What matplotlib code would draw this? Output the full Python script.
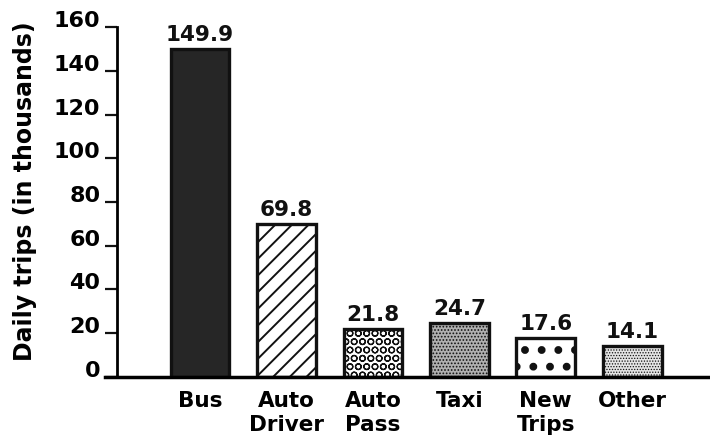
import matplotlib
matplotlib.use("Agg")
import matplotlib.pyplot as plt
import numpy as np

# daily trips by mode, in thousands
modes = ["Bus", "Auto\nDriver", "Auto\nPass", "Taxi", "New\nTrips", "Other"]
trips = [149.9, 69.8, 21.8, 24.7, 17.6, 14.1]
y_ticks = [0, 20, 40, 60, 80, 100, 120, 140, 160]

fills = ["#262626", "white", "white", "#b0b0b0", "white", "#e4e4e4"]
hatches = [None, "//", "OO", ".....", ".", "......"]
hatch_widths = [1.0, 1.4, 0.9, 0.8, 3.2, 0.6]

plt.rcParams["font.family"] = ["DejaVu Sans"]
plt.rcParams["font.weight"] = "bold"

fig = plt.figure(figsize=(7.1, 4.44), dpi=100)
ax = fig.add_axes([0.165, 0.151, 0.835, 0.788])

x = np.arange(len(modes))
bars = ax.bar(x, trips, width=0.68, color=fills, edgecolor="#111111",
              linewidth=2.4, zorder=2)
for bar, h, hw in zip(bars, hatches, hatch_widths):
    if h:
        bar.set_hatch(h)
        if hasattr(bar, "set_hatch_linewidth"):
            bar.set_hatch_linewidth(hw)

for xi, v in zip(x, trips):
    ax.annotate(f"{v}", (xi, v), xytext=(0, 3), textcoords="offset points",
                ha="center", va="bottom", fontsize=15.5, fontweight="bold",
                color="#111111")

ax.set_xlim(-0.96, 5.9)
ax.set_ylim(0, 160)
ax.set_yticks(y_ticks)
ax.set_yticklabels([str(t) for t in y_ticks], fontsize=16, fontweight="bold",
                   va="baseline")
ax.set_xticks(x)
ax.set_xticklabels(modes, fontsize=15.5, fontweight="bold", linespacing=1.25)
ax.tick_params(axis="x", length=0, pad=10)
ax.tick_params(axis="y", length=9, width=1.6, pad=3, color="#111111")

for side in ["top", "right"]:
    ax.spines[side].set_visible(False)
ax.spines["left"].set_linewidth(2)
ax.spines["bottom"].set_linewidth(2.5)
ax.spines["bottom"].set_bounds(-0.96 - 12 / 86.5, 5.9)
ax.spines["bottom"].set_clip_on(False)

ax.set_ylabel("Daily trips (in thousands)", fontsize=17, fontweight="bold")
ax.yaxis.set_label_coords(-0.135, 0.53)

fig.savefig("out.png", dpi=100)
